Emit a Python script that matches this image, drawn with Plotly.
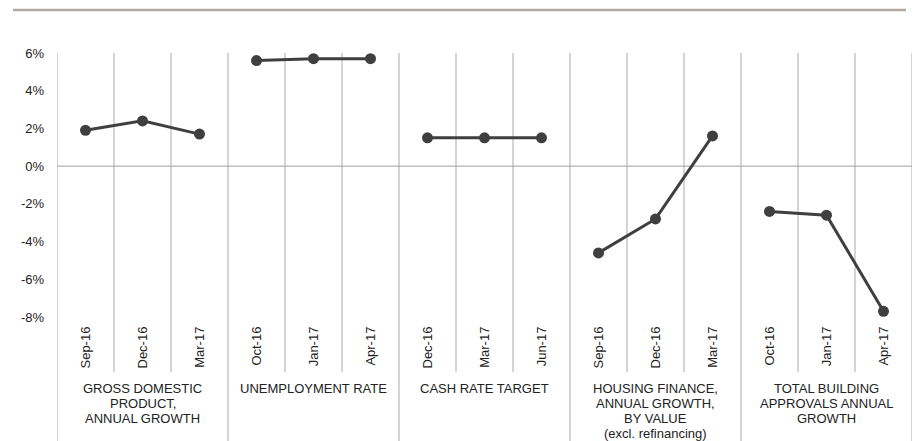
import plotly.graph_objects as go

groups = [
    ["GROSS DOMESTIC", "PRODUCT,", "ANNUAL GROWTH"],
    ["UNEMPLOYMENT RATE"],
    ["CASH RATE TARGET"],
    ["HOUSING FINANCE,", "ANNUAL GROWTH,", "BY VALUE", "(excl. refinancing)"],
    ["TOTAL BUILDING", "APPROVALS ANNUAL", "GROWTH"],
]
periods = [
    ["Sep-16", "Dec-16", "Mar-17"],
    ["Oct-16", "Jan-17", "Apr-17"],
    ["Dec-16", "Mar-17", "Jun-17"],
    ["Sep-16", "Dec-16", "Mar-17"],
    ["Oct-16", "Jan-17", "Apr-17"],
]
gdp = [1.9, 2.4, 1.7]
unemployment = [5.6, 5.7, 5.7]
cash_rate = [1.5, 1.5, 1.5]
housing = [-4.6, -2.8, 1.6]
building = [-2.4, -2.6, -7.7]
series = [gdp, unemployment, cash_rate, housing, building]
y_ticks = [6, 4, 2, 0, -2, -4, -6, -8]

W, H = 917, 441
L, R, T, B = 57, 5, 53, 124
plot_h = H - T - B
plot_w = W - L - R

def py(pix):
    return (H - B - pix) / plot_h

def px(pix):
    return (pix - L) / plot_w

fig = go.Figure()
tickvals, ticktext = [], []
idx = 0
for g, (labels, vals) in enumerate(zip(periods, series)):
    xs = list(range(idx, idx + len(vals)))
    fig.add_trace(go.Scatter(
        x=xs, y=vals, mode="lines+markers",
        line=dict(color="#3f3f3f", width=3),
        marker=dict(color="#3f3f3f", size=11),
        showlegend=False, hoverinfo="skip", cliponaxis=False,
    ))
    tickvals += xs
    ticktext += labels
    idx += len(vals)

n = idx
shapes = []
for i in range(n + 1):
    xv = i - 0.5
    is_group = (i % 3 == 0)
    shapes.append(dict(type="line", xref="x", yref="paper", x0=xv, x1=xv,
                       y0=py(H) if is_group else py(372), y1=1,
                       line=dict(color="#ababab", width=1), layer="below"))
shapes.append(dict(type="line", xref="paper", yref="y", x0=0, x1=1, y0=0, y1=0,
                   line=dict(color="#a0a0a0", width=1), layer="below"))
shapes.append(dict(type="line", xref="paper", yref="paper", x0=px(13), x1=px(906),
                   y0=py(10), y1=py(10), line=dict(color="#b3aba1", width=2.5)))

annotations = []
line_centers = [388, 403, 418, 433]
for g, lines in enumerate(groups):
    for k, txt in enumerate(lines):
        annotations.append(dict(x=3 * g + 1, y=py(line_centers[k]), xref="x", yref="paper",
                                text=txt, showarrow=False, yanchor="middle", xanchor="center",
                                font=dict(size=13, color="#222222")))

fig.update_layout(
    width=W, height=H,
    margin=dict(l=L, r=R, t=T, b=B, autoexpand=False),
    paper_bgcolor="white", plot_bgcolor="white",
    font=dict(family="Liberation Sans, Arial, sans-serif", size=13, color="#222222"),
    xaxis=dict(range=[-0.5, n - 0.5], tickvals=tickvals, ticktext=ticktext,
               tickangle=-90, showgrid=False, zeroline=False, showline=False,
               ticks="", ticklabelstandoff=6, automargin=False, fixedrange=True),
    yaxis=dict(range=[-8, 6], tickvals=y_ticks, ticktext=[f"{v}%" for v in y_ticks],
               showgrid=False, zeroline=False, showline=False, ticks="",
               ticklabelstandoff=12, automargin=False, fixedrange=True),
    shapes=shapes, annotations=annotations,
)
fig.write_html("out.html", config={"displayModeBar": False},
               post_script="document.body.style.margin='0px';")
